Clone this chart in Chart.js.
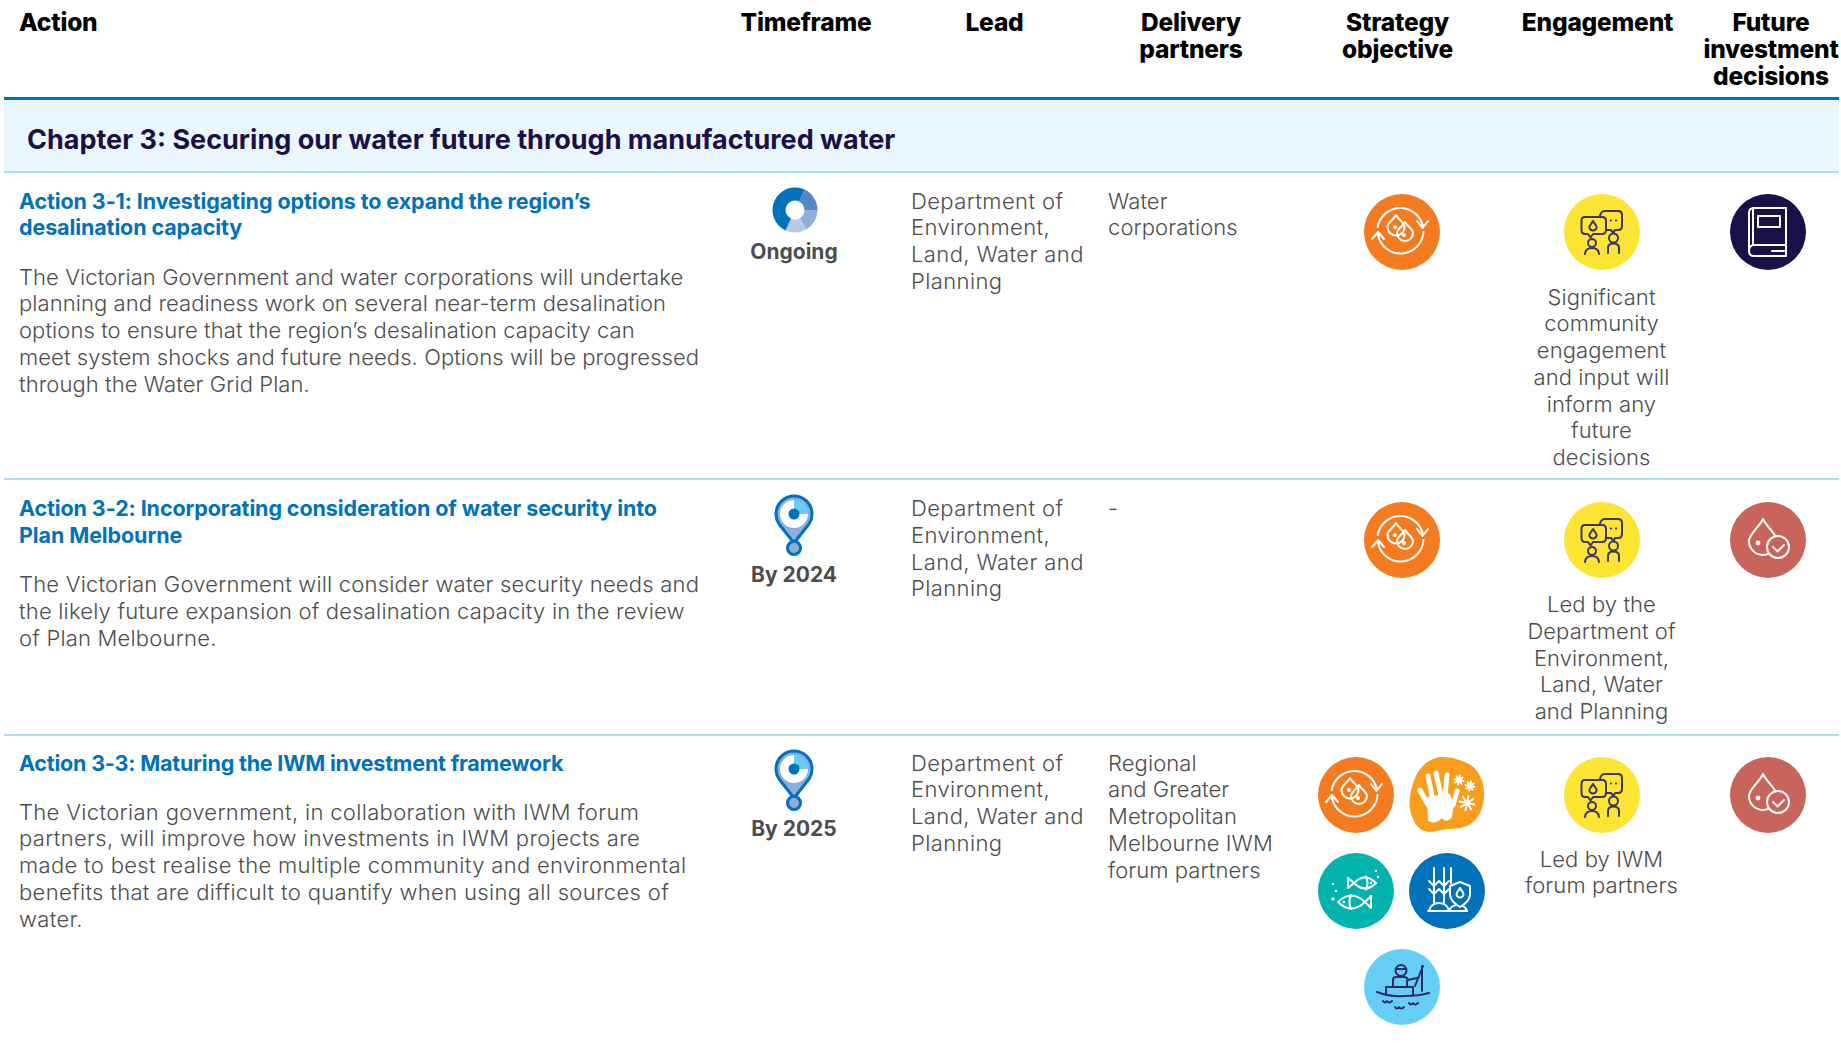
<!DOCTYPE html>
<html>
<head>
<meta charset="utf-8">
<title>Chapter 3 actions</title>
<script src="https://cdn.jsdelivr.net/npm/chart.js@4"></script>
<style>
  html, body { margin: 0; background: #fff; }
  #page { position: relative; width: 1841px; height: 1049px; overflow: hidden; font-family: Inter, sans-serif; color: #4d4d4f; }
  #page div, #page canvas { position: absolute; }
  .t { white-space: pre; line-height: 26.75px; font-size: 22px; font-weight: 300; letter-spacing: 0.08px; }
  .head { font-size: 24.5px; font-weight: 800; color: #000; line-height: 27px; letter-spacing: -0.2px; }
  .title { font-weight: 700; font-size: 21.5px; color: #0072bc; letter-spacing: -0.1px; }
  .title.r2 { letter-spacing: -0.2px; }
  .when { font-weight: 700; font-size: 21px; letter-spacing: 0; }
  .chapter { font-size: 27px; font-weight: 700; color: #1a1049; letter-spacing: 0; }
  .center { text-align: center; width: 300px; }
  .body1 { letter-spacing: 0.2px; }
  .body2 { letter-spacing: 0.33px; }
  .lead { letter-spacing: 0.4px; }
</style>
</head>
<body>
<div id="page"></div>
<script>
const headers = [["Action"], ["Timeframe"], ["Lead"], ["Delivery", "partners"], ["Strategy", "objective"], ["Engagement"], ["Future", "investment", "decisions"]];
const chapter = "Chapter 3: Securing our water future through manufactured water";
const titles = [
  ["Action 3-1: Investigating options to expand the region’s", "desalination capacity"],
  ["Action 3-2: Incorporating consideration of water security into", "Plan Melbourne"],
  ["Action 3-3: Maturing the IWM investment framework"]
];
const bodies = [
  ["The Victorian Government and water corporations will undertake", "planning and readiness work on several near-term desalination", "options to ensure that the region’s desalination capacity can", "meet system shocks and future needs. Options will be progressed", "through the Water Grid Plan."],
  ["The Victorian Government will consider water security needs and", "the likely future expansion of desalination capacity in the review", "of Plan Melbourne."],
  ["The Victorian government, in collaboration with IWM forum", "partners, will improve how investments in IWM projects are", "made to best realise the multiple community and environmental", "benefits that are difficult to quantify when using all sources of", "water."]
];
const timeframes = ["Ongoing", "By 2024", "By 2025"];
const leads = ["Department of", "Environment,", "Land, Water and", "Planning"];
const partners = [
  ["Water", "corporations"],
  ["-"],
  ["Regional", "and Greater", "Metropolitan", "Melbourne IWM", "forum partners"]
];
const engagement = [
  ["Significant", "community", "engagement", "and input will", "inform any", "future", "decisions"],
  ["Led by the", "Department of", "Environment,", "Land, Water", "and Planning"],
  ["Led by IWM", "forum partners"]
];
const ongoingShares = [65, 60, 55, 180];
const ongoingColors = ["#5487c6", "#8fadda", "#b7cbe9", "#0072bc"];
const pinShares = [25, 75];
const pinColors = ["#66cef5", "#ffffff"];

const page = document.getElementById("page");

function text(lines, x, y, cls, center) {
  const d = document.createElement("div");
  d.className = "t " + cls + (center ? " center" : "");
  d.textContent = lines.join("\n");
  d.style.left = (center ? x - 150 : x) + "px";
  d.style.top = (y - 13.4) + "px";
  page.appendChild(d);
}

function rule(top, height, color, left, width) {
  const d = document.createElement("div");
  d.style.cssText = `left:${left}px;top:${top}px;width:${width}px;height:${height}px;background:${color}`;
  page.appendChild(d);
}

function drop(cx, cy, r, h) {
  return `M${cx} ${cy - h}C${cx + r * .3} ${cy - h * .6} ${cx + r} ${cy - r * .5} ${cx + r} ${cy}A${r} ${r} 0 1 1 ${cx - r} ${cy}C${cx - r} ${cy - r * .5} ${cx - r * .3} ${cy - h * .6} ${cx} ${cy - h}Z`;
}
function dot(cx, cy, r) {
  return `M${cx - r} ${cy}A${r} ${r} 0 1 0 ${cx + r} ${cy}A${r} ${r} 0 1 0 ${cx - r} ${cy}Z`;
}
function star(cx, cy, r) {
  let s = "";
  for (let i = 0; i < 4; i++) {
    const a = i * Math.PI / 4 + .2, dx = Math.cos(a) * r, dy = Math.sin(a) * r;
    s += `M${cx - dx} ${cy - dy}L${cx + dx} ${cy + dy}`;
  }
  return s;
}

// line art that sits on top of each round icon, in a 76x76 box
const glyphs = {
  cycle: { color: "#fff", stroke: ["M13.7 33A23 23 0 0 1 59 33M53 27L58.5 34L64 27M59.5 38A23 23 0 0 1 14 41M8 45L14 38L20 45", drop(32, 33, 8.5, 12), drop(41, 39, 8, 11)], fill: [dot(31, 33, 2), dot(40, 41, 2)] },
  talk: { color: "#3a3666", stroke: [
    "M36 22Q37 17 41 17H54Q58 17 58 21V32Q58 36 54 36H51L49.5 39L47 36H43",
    "M21 23H38Q42 23 42 27V36Q42 40 38 40H29L26.5 43.5L24 40H21Q17.5 40 17.5 36V27Q17.5 23 21 23Z",
    drop(29, 33, 3.6, 6), dot(28, 49, 4), "M21 60Q21.500 54 28 54Q34.500 54 35 60", dot(49.5, 44, 4.500), "M44 59V54Q44 49.500 49.500 49.500Q55 49.500 55 54V59"
  ], fill: [dot(47, 26.500, 1.1), dot(52, 26.500, 1.1)] },
  book: { color: "#fff", stroke: ["M24 14H56V62H24Q19 62 19 57V19Q19 14 24 14Z", "M23 14V51M19 57Q19 51 24 51H56", "M28 22H50V33H28Z", "M42 57H54"], fill: [] },
  check: { color: "#fff", stroke: [drop(33, 39, 14, 22), "M43 45L47.500 49.500L54 43"], fill: [dot(28, 41, 2.4)], hole: [48, 45, 11] },
  hand: { color: "#fff", lineWidth: 5, stroke: ["M11 33L19 48", "M19 19L23 39", "M27 16L32 39", "M38 18L36 39", "M48 34L44 48"], fill: ["M18 40L30 38L40 36L45 46L43 60Q37 67 33 61Q26 68 19 64Z"], thin: [star(50, 23, 4.500), star(61, 29, 4.500), star(58, 46, 7.500)], blob: "M29 0.500C38 -1 50 2 60 7C70 13 76 25 75 40C74 52 70 62 60 68C50 73 38 71 28 74C16 77 8 72 4 62C-1 50 0 42 3 30C7 14 16 3 29 0.500Z" },
  fish: { color: "#fff", stroke: ["M36 30Q47 19 58 30Q47 41 36 30ZM36 30L30 25V35Z", "M48 23.500Q51 30 48 36.500", "M20 49Q33 36 47 49Q33 62 20 49ZM47 49L53 43V55Z", "M33 42Q30 49 33 56"], fill: [dot(53, 30, 1.300), dot(26, 49, 1.300), dot(15, 31, 1.300), dot(18, 38, 1.300), dot(15, 46, 1.700), dot(58, 18, 1.200), dot(60, 24, 1.200)] },
  crop: { color: "#fff", stroke: ["M25 15V50M35 15V50M42 15V30M19 58H58", "M20 28L25 33L30 28M30 28L35 33L40 28M20 36L25 41L30 36M30 36L35 41L40 36", "M20 58Q22 50 30 50Q38 50 40 58Q42 52 49 52Q56 52 58 58"], fill: [], shield: "M41 33L51 29L61 33V42Q60 49 51 54Q42 49 41 42Z", inner: drop(51, 41, 3.500, 6) },
  fisher: { color: "#2b2a6b", stroke: ["M13 43Q25 48 40 47Q55 47 65 44", "M22 46V38H49V46", "M29 38V31Q29 28 32 28H40Q43 28 44 31L53 29M43 37V32", "M59 17L51 37M58 17V42", "M19 52Q21 55 23 52Q25 55 28 52M31 58Q33 61 35 58Q37 61 40 58M45 54Q47 57 49 54Q51 57 54 54", dot(37, 21.500, 5.500), "M32 20H42"], fill: [] }
};

function drawGlyph(ctx, g) {
  ctx.save();
  ctx.lineCap = "round";
  ctx.lineJoin = "round";
  ctx.strokeStyle = g.color;
  ctx.fillStyle = g.color;
  ctx.lineWidth = g.lineWidth || 2;
  g.stroke.forEach(p => ctx.stroke(new Path2D(p)));
  g.fill.forEach(p => ctx.fill(new Path2D(p)));
  ctx.lineWidth = 2;
  if (g.hole) {
    // circle behind the tick; erases the drop outline with the icon colour
    const p = new Path2D(dot(g.hole[0], g.hole[1], g.hole[2]));
    ctx.fillStyle = g.holeColor;
    ctx.fill(p);
    ctx.stroke(p);
    ctx.stroke(new Path2D(g.stroke[1]));
  }
  if (g.thin) g.thin.forEach(p => ctx.stroke(new Path2D(p)));
  if (g.shield) {
    const s = new Path2D(g.shield);
    ctx.fillStyle = g.holeColor;
    ctx.fill(s);
    ctx.stroke(s);
    ctx.stroke(new Path2D(g.inner));
  }
  ctx.restore();
}

function canvasAt(x, y, w, h) {
  const c = document.createElement("canvas");
  c.width = w;
  c.height = h;
  c.style.left = x + "px";
  c.style.top = y + "px";
  page.appendChild(c);
  return c;
}

const pieOptions = { responsive: false, animation: false, events: [], plugins: { legend: { display: false }, tooltip: { enabled: false } } };

function icon(cx, cy, color, name) {
  const g = Object.assign({}, glyphs[name], { holeColor: color });
  new Chart(canvasAt(cx - 38, cy - 38, 76, 76), {
    type: "doughnut",
    data: { datasets: [{ data: [1], backgroundColor: [color], borderWidth: 0, hoverOffset: 0 }] },
    options: Object.assign({}, pieOptions, { cutout: 0, radius: g.blob ? 32 : 38 }),
    plugins: [{
      id: "glyph",
      beforeDraw(c) {
        if (!g.blob) return;
        c.ctx.fillStyle = color;
        c.ctx.fill(new Path2D(g.blob));
      },
      afterDraw(c) { drawGlyph(c.ctx, g); }
    }]
  });
}

function ongoingIcon(cx, cy) {
  new Chart(canvasAt(cx - 23, cy - 23, 46, 46), {
    type: "doughnut",
    data: { datasets: [{ data: ongoingShares, backgroundColor: ongoingColors, borderWidth: 0, hoverOffset: 0 }] },
    options: Object.assign({}, pieOptions, { cutout: "42%", radius: 22.5, rotation: 25 })
  });
}

function pinIcon(cx, top) {
  new Chart(canvasAt(cx - 20, top, 40, 66), {
    type: "doughnut",
    data: { datasets: [{ data: pinShares, backgroundColor: pinColors, borderWidth: 0, hoverOffset: 0 }] },
    options: Object.assign({}, pieOptions, {
      cutout: 0,
      layout: { padding: { left: 6, right: 6, top: 7, bottom: 31 } }
    }),
    plugins: [{
      id: "pinBody",
      beforeDraw(c) {
        const ctx = c.ctx;
        ctx.save();
        ctx.strokeStyle = "#0072bc";
        ctx.fillStyle = "#8fadda";
        ctx.lineWidth = 3;
        ctx.lineJoin = "round";
        [ "M20 50L5 31A18 18 0 1 1 35 31Z", dot(20, 55, 6.500) ].forEach(s => {
          const p = new Path2D(s);
          ctx.fill(p);
          ctx.stroke(p);
        });
        ctx.restore();
      },
      afterDraw(c) {
        c.ctx.fillStyle = "#0072bc";
        c.ctx.fill(new Path2D(dot(20, 21, 5.500)));
      }
    }]
  });
}

// rules and chapter band
rule(97, 3, "#0072bc", 4, 1835);
rule(100, 71, "#ebf7fe", 4, 1835);
rule(171, 2, "#a6e0f7", 4, 1835);
rule(478, 2, "#a6e0f7", 4, 1835);
rule(733.5, 2, "#a6e0f7", 4, 1835);

// header row
const headerX = [19, 806, 994.5, 1191, 1397.5, 1597.5, 1771];
headers.forEach((h, i) => {
  text(h, headerX[i], 22, "head", i > 0);
});
text([chapter], 27, 140.5, "chapter");

// action rows
const rowY = [201, 508.5, 763];
titles.forEach((title, i) => {
  const y = rowY[i];
  text(title, 19, y, "title r" + i);
  text(bodies[i], 19, y + (title.length - 1) * 27 + 49, "body" + i);
  text([timeframes[i]], 794, y + (i === 0 ? 51 : 66.5), "when", true);
  text(leads, 911, y, "lead");
  text(partners[i], 1108, y, "");
  text(engagement[i], 1601.5, y + 96, "", true);
});

ongoingIcon(794.5, 209.5);
pinIcon(794, 493);
pinIcon(794, 748);

const ORANGE = "#f47b20", AMBER = "#f99d1c", TEAL = "#00b3ac", BLUE = "#0072bc", SKY = "#66cef5", YELLOW = "#fee433", NAVY = "#1a1049", RED = "#c8645a";
icon(1401.5, 232, ORANGE, "cycle");
icon(1601.5, 232, YELLOW, "talk");
icon(1768, 232, NAVY, "book");
icon(1401.5, 540, ORANGE, "cycle");
icon(1601.5, 540, YELLOW, "talk");
icon(1768, 540, RED, "check");
icon(1356, 795, ORANGE, "cycle");
icon(1447, 795, AMBER, "hand");
icon(1356, 891, TEAL, "fish");
icon(1447, 891, BLUE, "crop");
icon(1402, 987, SKY, "fisher");
icon(1601.5, 795, YELLOW, "talk");
icon(1768, 795, RED, "check");
</script>
</body>
</html>
